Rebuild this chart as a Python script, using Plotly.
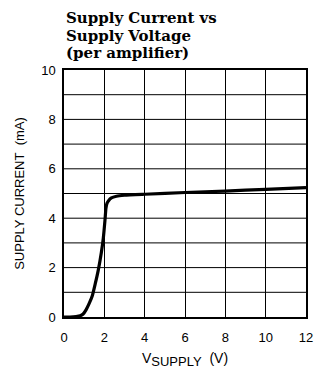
import plotly.graph_objects as go

v_supply = [0.0, 0.3, 0.6, 0.8, 0.95, 1.1, 1.25, 1.4, 1.55, 1.7, 1.85, 1.95, 2.03, 2.08, 2.13, 2.2, 2.35, 2.6, 3.0, 4.0, 6.0, 8.0, 10.0, 12.0]
supply_current = [0.0, 0.0, 0.02, 0.05, 0.12, 0.3, 0.55, 0.85, 1.35, 1.9, 2.6, 3.2, 3.9, 4.4, 4.6, 4.7, 4.82, 4.89, 4.93, 4.97, 5.04, 5.1, 5.17, 5.24]

title_lines = ["Supply Current vs", "Supply Voltage", "(per amplifier)"]
x_ticks = [0, 2, 4, 6, 8, 10, 12]
y_ticks = [0, 2, 4, 6, 8, 10]

fig = go.Figure()
fig.add_trace(go.Scatter(x=v_supply, y=supply_current, mode="lines",
                         line=dict(color="black", width=3.2, shape="spline", smoothing=0.5),
                         hoverinfo="skip", showlegend=False))

# The page body adds an 8px offset, so the figure is 8px smaller and margins compensate.
sans = "Liberation Sans, Arial, sans-serif"
fig.update_layout(
    width=314, height=369,
    margin=dict(l=56, r=9, t=62, b=60),
    paper_bgcolor="white", plot_bgcolor="white",
    showlegend=False,
    font=dict(family=sans, size=13, color="black"),
    xaxis=dict(range=[0, 12], tickvals=x_ticks, ticks="outside", ticklen=8,
               tickcolor="rgba(0,0,0,0)", showgrid=True,
               gridcolor="black", gridwidth=1, zeroline=False,
               showline=True, linecolor="black", linewidth=1.5, mirror=True,
               ticklabeloverflow="allow",
               tickfont=dict(family=sans, size=13),
               title=dict(text="V<sub><span style='font-size:13px'>SUPPLY</span></sub>&nbsp; (V)",
                          font=dict(family=sans, size=14), standoff=9)),
    yaxis=dict(range=[0, 10], tickvals=y_ticks, ticks="outside", ticklen=4,
               tickcolor="rgba(0,0,0,0)", showgrid=False,
               zeroline=False, showline=True, linecolor="black", linewidth=1.5, mirror=True,
               tickfont=dict(family=sans, size=13),
               title=dict(text="SUPPLY CURRENT&nbsp; (mA)", font=dict(family=sans, size=13), standoff=14)),
)
# horizontal grid lines every 1 mA
for yv in range(1, 10):
    fig.add_shape(type="line", xref="paper", yref="y", x0=0, x1=1, y0=yv, y1=yv,
                  line=dict(color="black", width=1), layer="below")

serif = "DejaVu Serif, Liberation Serif, serif"
for i, t in enumerate(title_lines):
    fig.add_annotation(text="<b>" + t + "</b>", xref="paper", yref="paper",
                       x=0.0, y=1 + (63 - 17.5 * i) / 247.0, xanchor="left", yanchor="top",
                       showarrow=False, font=dict(family=serif, size=15, color="black"))

fig.write_html("out.html")
